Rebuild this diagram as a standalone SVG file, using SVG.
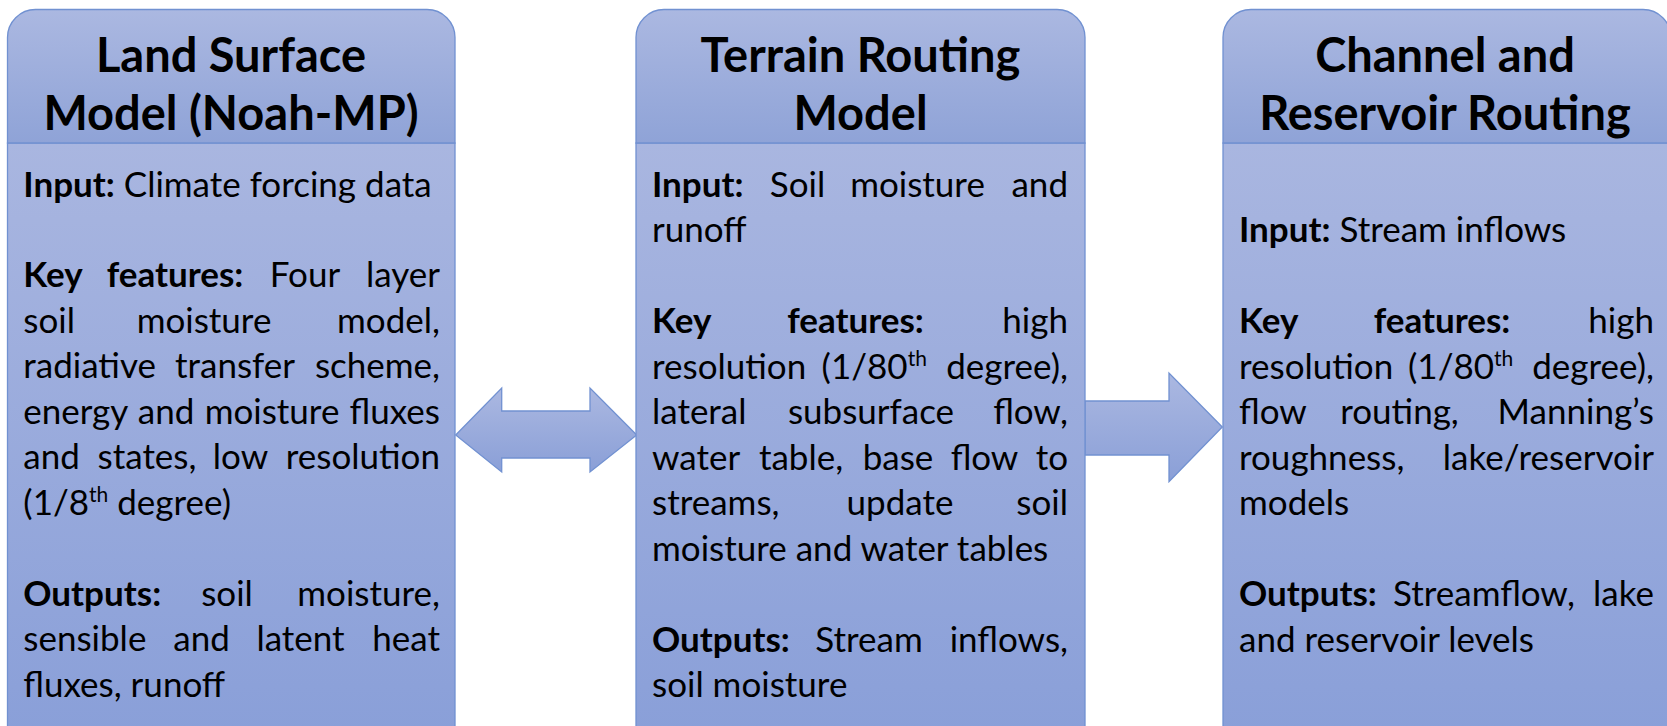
<svg xmlns="http://www.w3.org/2000/svg" width="1667" height="726" viewBox="0 0 1667 726">
<defs>
<linearGradient id="gHead" x1="0" y1="0" x2="0" y2="1">
<stop offset="0" stop-color="#abb8e1"/>
<stop offset="1" stop-color="#8fa3d7"/>
</linearGradient>
<linearGradient id="gBody" x1="0" y1="0" x2="0" y2="1">
<stop offset="0" stop-color="#a9b6e0"/>
<stop offset="1" stop-color="#889ed8"/>
</linearGradient>
<linearGradient id="gArrow" x1="0" y1="0" x2="0" y2="1">
<stop offset="0" stop-color="#abb8e1"/>
<stop offset="1" stop-color="#8a9fd7"/>
</linearGradient>
<style>
.head{fill:url(#gHead);stroke:#7191d1;stroke-width:1.3}
.body{fill:url(#gBody);stroke:#7191d1;stroke-width:1.3}
.arrow{fill:url(#gArrow);stroke:#7191d1;stroke-width:1.3}
.h{font-family:Lato,"Liberation Sans",sans-serif;font-size:47px;font-weight:bold;fill:#000;text-anchor:middle}
.t{font-family:Lato,"Liberation Sans",sans-serif;font-size:35px;fill:#000}
.b{font-weight:bold}
.m{text-anchor:middle}
.e{text-anchor:end}
.sup{font-size:21px}
</style>
</defs>

<g id="connectors">
<path id="arrow-lsm-terrain" class="arrow" d="M455.7,435 L501.7,388 V411 H590 V388 L636.7,435 L590,472 V458 H501.7 V472 Z"/>
<path id="arrow-terrain-channel" class="arrow" d="M1085,401 H1169 V373 L1222.3,427 L1169,481.7 V455 H1085 Z"/>
</g>

<g id="node-land-surface">
<rect class="body" x="7.5" y="143" width="447.5" height="620"/>
<path class="head" d="M7.5,143 V37.5 A28,28 0 0 1 35.5,9.5 H427 A28,28 0 0 1 455,37.5 V143 Z"/>
<text class="h" x="231" y="72">Land Surface</text>
<text class="h" x="231" y="130">Model (Noah-MP)</text>
<text class="t" y="196.5"><tspan x="23.3" class="b">Input:</tspan> Climate forcing data</text>
<text class="t" y="287"><tspan x="23.3" class="b">Key</tspan><tspan x="175" class="b m">features:</tspan><tspan x="305" class="m">Four</tspan><tspan x="440" class="e">layer</tspan></text>
<text class="t" y="332.5"><tspan x="23.3">soil</tspan><tspan x="204" class="m">moisture</tspan><tspan x="440" class="e">model,</tspan></text>
<text class="t" y="378"><tspan x="23.3">radiative</tspan><tspan x="235" class="m">transfer</tspan><tspan x="440" class="e">scheme,</tspan></text>
<text class="t" y="423.5"><tspan x="23.3">energy</tspan><tspan x="166" class="m">and</tspan><tspan x="272" class="m">moisture</tspan><tspan x="440" class="e">fluxes</tspan></text>
<text class="t" y="469"><tspan x="23.3">and</tspan><tspan x="147" class="m">states,</tspan><tspan x="240.5" class="m">low</tspan><tspan x="440" class="e">resolution</tspan></text>
<text class="t" y="514.5"><tspan x="23.3">(1/8</tspan><tspan class="sup" dy="-13">th</tspan><tspan dy="13"> degree)</tspan></text>
<text class="t" y="605.5"><tspan x="23.3" class="b">Outputs:</tspan><tspan x="227" class="m">soil</tspan><tspan x="440" class="e">moisture,</tspan></text>
<text class="t" y="651"><tspan x="23.3">sensible</tspan><tspan x="201.5" class="m">and</tspan><tspan x="300.5" class="m">latent</tspan><tspan x="440" class="e">heat</tspan></text>
<text class="t" y="696.5"><tspan x="23.3">fluxes, runoff</tspan></text>
</g>

<g id="node-terrain-routing">
<rect class="body" x="636" y="143" width="449" height="620"/>
<path class="head" d="M636,143 V37.5 A28,28 0 0 1 664,9.5 H1057 A28,28 0 0 1 1085,37.5 V143 Z"/>
<text class="h" x="860.5" y="72">Terrain Routing</text>
<text class="h" x="860.5" y="130">Model</text>
<text class="t" y="196.5"><tspan x="652" class="b">Input:</tspan><tspan x="797.5" class="m">Soil</tspan><tspan x="917.5" class="m">moisture</tspan><tspan x="1068" class="e">and</tspan></text>
<text class="t" y="242"><tspan x="652">runoff</tspan></text>
<text class="t" y="333"><tspan x="652" class="b">Key</tspan><tspan x="855.5" class="b m">features:</tspan><tspan x="1068" class="e">high</tspan></text>
<text class="t" y="378.5"><tspan x="652">resolution</tspan><tspan x="821.6">(1/80</tspan><tspan class="sup" dy="-13">th</tspan><tspan x="1068" dy="13" class="e">degree),</tspan></text>
<text class="t" y="424"><tspan x="652">lateral</tspan><tspan x="871" class="m">subsurface</tspan><tspan x="1068" class="e">flow,</tspan></text>
<text class="t" y="469.5"><tspan x="652">water</tspan><tspan x="801" class="m">table,</tspan><tspan x="898" class="m">base</tspan><tspan x="984.5" class="m">flow</tspan><tspan x="1068" class="e">to</tspan></text>
<text class="t" y="515"><tspan x="652">streams,</tspan><tspan x="900" class="m">update</tspan><tspan x="1068" class="e">soil</tspan></text>
<text class="t" y="560.5"><tspan x="652">moisture and water tables</tspan></text>
<text class="t" y="651.5"><tspan x="652" class="b">Outputs:</tspan><tspan x="869" class="m">Stream</tspan><tspan x="1068" class="e">inflows,</tspan></text>
<text class="t" y="697"><tspan x="652">soil moisture</tspan></text>
</g>

<g id="node-channel-reservoir">
<rect class="body" x="1223" y="143" width="448" height="620"/>
<path class="head" d="M1223,143 V37.5 A28,28 0 0 1 1251,9.5 H1643 A28,28 0 0 1 1671,37.5 V143 Z"/>
<text class="h" x="1445" y="72">Channel and</text>
<text class="h" x="1445" y="130">Reservoir Routing</text>
<text class="t" y="242"><tspan x="1239" class="b">Input:</tspan> Stream inflows</text>
<text class="t" y="333"><tspan x="1239" class="b">Key</tspan><tspan x="1442" class="b m">features:</tspan><tspan x="1654" class="e">high</tspan></text>
<text class="t" y="378.5"><tspan x="1239">resolution</tspan><tspan x="1408">(1/80</tspan><tspan class="sup" dy="-13">th</tspan><tspan x="1654" dy="13" class="e">degree),</tspan></text>
<text class="t" y="424"><tspan x="1239">flow</tspan><tspan x="1399.5" class="m">routing,</tspan><tspan x="1654" class="e">Manning’s</tspan></text>
<text class="t" y="469.5"><tspan x="1239">roughness,</tspan><tspan x="1654" class="e">lake/reservoir</tspan></text>
<text class="t" y="515"><tspan x="1239">models</tspan></text>
<text class="t" y="606"><tspan x="1239" class="b">Outputs:</tspan><tspan x="1484" class="m">Streamflow,</tspan><tspan x="1654" class="e">lake</tspan></text>
<text class="t" y="651.5"><tspan x="1239">and reservoir levels</tspan></text>
</g>
</svg>
